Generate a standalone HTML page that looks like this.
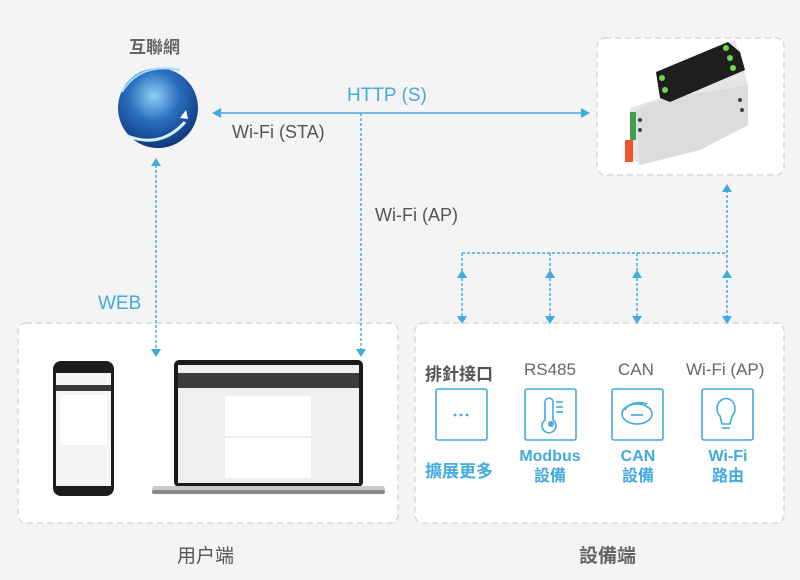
<!DOCTYPE html>
<html><head><meta charset="utf-8"><style>
html,body{margin:0;padding:0;background:#f4f4f4;}
body{width:800px;height:580px;overflow:hidden;position:relative;font-family:"Liberation Sans","Noto Sans CJK TC",sans-serif;}
.t{position:absolute;white-space:nowrap;}
</style></head><body>
<svg width="800" height="580" style="position:absolute;left:0;top:0">
<defs>
<radialGradient id="g" cx="0.45" cy="0.35" r="0.7">
<stop offset="0" stop-color="#8fd0f5"/><stop offset="0.45" stop-color="#2a6fc0"/><stop offset="1" stop-color="#0c2f72"/></radialGradient>
</defs>
<rect x="597" y="38" width="187" height="137" rx="8" fill="#fff" stroke="#d6d6d6" stroke-width="1.5" stroke-dasharray="6,4"/>
<rect x="18" y="323" width="380" height="200" rx="8" fill="#fff" stroke="#d6d6d6" stroke-width="1.5" stroke-dasharray="6,4"/>
<rect x="415" y="323" width="369" height="200" rx="8" fill="#fff" stroke="#d6d6d6" stroke-width="1.5" stroke-dasharray="6,4"/>
<circle cx="158" cy="108" r="40" fill="url(#g)"/>
<path d="M122 92 Q140 62 180 70" stroke="#9edcf8" stroke-width="2" fill="none"/>
<path d="M125 135 Q160 150 185 122" stroke="#d7f2ff" stroke-width="3" fill="none"/>
<path d="M180 118 l6 -8 l2 9 z" fill="#fff"/>
<!-- device -->
<g>
<polygon points="656,75 735,40 748,85 748,125 700,150 640,165 630,155 630,108 660,98" fill="#e6e6e6"/>
<polygon points="660,100 748,85 748,125 700,150 640,165 636,110" fill="#dcdcdc"/>
<polygon points="656,72 728,42 740,52 745,70 670,102 660,98" fill="#1e1e1e"/>
<circle cx="662" cy="78" r="3" fill="#6fd84a"/><circle cx="665" cy="90" r="3" fill="#6fd84a"/>
<circle cx="726" cy="48" r="3" fill="#6fd84a"/><circle cx="730" cy="58" r="3" fill="#6fd84a"/>
<circle cx="733" cy="68" r="3" fill="#6fd84a"/>
<rect x="625" y="140" width="8" height="22" fill="#f0522a"/>
<rect x="630" y="112" width="6" height="28" fill="#3f9f4a"/>
<g fill="#2f4a2f"><circle cx="740" cy="100" r="2"/><circle cx="742" cy="110" r="2"/><circle cx="640" cy="120" r="2"/><circle cx="640" cy="130" r="2"/></g>
</g>
<g stroke="#41aade" stroke-width="1.4" fill="none">
<line x1="218" y1="113" x2="584" y2="113"/>
<g stroke-dasharray="3,2">
<line x1="361" y1="113" x2="361" y2="350"/>
<line x1="156" y1="165" x2="156" y2="350"/>
<line x1="462" y1="253" x2="727" y2="253"/>
<line x1="727" y1="190" x2="727" y2="318"/>
<line x1="462" y1="253" x2="462" y2="318"/>
<line x1="550" y1="253" x2="550" y2="318"/>
<line x1="637" y1="253" x2="637" y2="318"/>
</g></g>
<g fill="#41aade">
<path d="M212 113 l9 -5 v10 z"/><path d="M590 113 l-9 -5 v10 z"/>
<path d="M361 357 l-5 -8 h10 z"/><path d="M156 357 l-5 -8 h10 z"/>
<path d="M156 158 l-5 8 h10 z"/><path d="M727 184 l-5 8 h10 z"/>
<path d="M462 270 l-5 8 h10 z"/><path d="M550 270 l-5 8 h10 z"/><path d="M637 270 l-5 8 h10 z"/><path d="M727 270 l-5 8 h10 z"/>
<path d="M462 324 l-5 -8 h10 z"/><path d="M550 324 l-5 -8 h10 z"/><path d="M637 324 l-5 -8 h10 z"/><path d="M727 324 l-5 -8 h10 z"/>
</g>
<rect x="53" y="361" width="61" height="135" rx="8" fill="#1c1c1c"/>
<rect x="56" y="373" width="55" height="113" fill="#f4f4f4"/>
<rect x="56" y="385" width="55" height="6" fill="#3a3a3a"/>
<rect x="60" y="395" width="47" height="50" fill="#fff"/>
<rect x="174" y="360" width="189" height="127" rx="5" fill="#1a1a1a"/>
<rect x="178" y="365" width="181" height="118" fill="#efefef"/>
<rect x="178" y="373" width="181" height="15" fill="#3c3c3c"/>
<rect x="225" y="396" width="86" height="40" fill="#fff"/>
<rect x="225" y="438" width="86" height="40" fill="#fff"/>
<rect x="152" y="486" width="233" height="8" rx="3" fill="#c9c9c9"/>
<rect x="152" y="490" width="233" height="4" rx="2" fill="#8a8a8a"/>
<g fill="none" stroke="#41aade" stroke-width="1.6">
<rect x="436" y="389" width="51" height="51" rx="2"/>
<rect x="525" y="389" width="51" height="51" rx="2"/>
<rect x="612" y="389" width="51" height="51" rx="2"/>
<rect x="702" y="389" width="51" height="51" rx="2"/>
<path d="M545 420 v-18 a4 4 0 0 1 8 0 v18 a7 7 0 1 1 -8 0 z"/>
<line x1="556" y1="402" x2="563" y2="402"/><line x1="556" y1="407" x2="563" y2="407"/><line x1="556" y1="412" x2="563" y2="412"/>
<ellipse cx="637" cy="414" rx="15" ry="10"/><path d="M625 410 a15 10 0 0 1 22 -6"/>
<line x1="631" y1="415" x2="643" y2="415"/>
<path d="M720 416 a9 10 0 1 1 12 0 l-2 8 h-8 z"/><line x1="722" y1="428" x2="730" y2="428"/>
</g>
<circle cx="551" cy="424" r="3" fill="#41aade"/>
<g fill="#41aade"><circle cx="455" cy="415" r="1.4"/><circle cx="461" cy="415" r="1.4"/><circle cx="467" cy="415" r="1.4"/></g>
</svg>
<div class="t" style="left:129px;top:33px;font-size:17px;font-weight:bold;color:#666">互聯網</div>
<div class="t" style="left:347px;top:85px;font-size:19px;color:#41aade">HTTP (S)</div>
<div class="t" style="left:232px;top:122px;font-size:18px;color:#555">Wi-Fi (STA)</div>
<div class="t" style="left:375px;top:205px;font-size:18px;color:#555">Wi-Fi (AP)</div>
<div class="t" style="left:98px;top:293px;font-size:19px;color:#41aade">WEB</div>
<div class="t" style="left:425px;top:360px;font-size:17px;font-weight:bold;color:#555">排針接口</div>
<div class="t" style="left:524px;top:360px;font-size:17px;color:#666">RS485</div>
<div class="t" style="left:618px;top:360px;font-size:17px;color:#666">CAN</div>
<div class="t" style="left:686px;top:360px;font-size:17px;color:#666">Wi-Fi (AP)</div>
<div class="t" style="left:425px;top:457px;font-size:17px;font-weight:bold;color:#41aade">擴展更多</div>
<div class="t" style="left:512px;top:447px;width:76px;text-align:center;font-size:16px;font-weight:bold;color:#41aade;line-height:20px">Modbus<br>設備</div>
<div class="t" style="left:600px;top:447px;width:76px;text-align:center;font-size:16px;font-weight:bold;color:#41aade;line-height:20px">CAN<br>設備</div>
<div class="t" style="left:690px;top:447px;width:76px;text-align:center;font-size:16px;font-weight:bold;color:#41aade;line-height:20px">Wi-Fi<br>路由</div>
<div class="t" style="left:177px;top:541px;font-size:19px;color:#555">用户端</div>
<div class="t" style="left:579px;top:541px;font-size:19px;font-weight:bold;color:#666">設備端</div>
</body></html>
